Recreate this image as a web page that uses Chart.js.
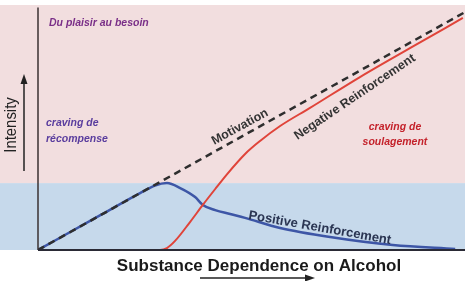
<!DOCTYPE html>
<html>
<head>
<meta charset="utf-8">
<script src="https://cdn.jsdelivr.net/npm/chart.js@4"></script>
<style>
  body { margin: 0; background: #fff; }
  #wrap { width: 468px; height: 281px; }
</style>
</head>
<body>
<div id="wrap"><canvas id="chart"></canvas></div>
<script>
// x = dependence (0-100), y = intensity (0-100)
var motivationX = [0, 100];
var motivationY = [0, 97.1];

var positiveX = [0, 14.5, 23.9, 27.4, 30.2, 33.3, 36.8, 38.6, 41.5, 45.0, 48.5, 56.7, 68.4, 83.1, 97.7];
var positiveY = [0, 14.1, 23.2, 26.3, 27.3, 25.3, 21.6, 18.4, 16.3, 14.7, 13.1, 9.0, 5.3, 2.0, 0.4];

var negativeX = [0, 28.6, 30.2, 32.1, 35.6, 38.6, 41.5, 44.3, 48.5, 52.0, 56.7, 63.7, 75.4, 87.1, 99.5];
var negativeY = [0, 0, 0.8, 3.7, 11.4, 18.4, 24.9, 31.0, 39.2, 44.5, 50.6, 58.0, 70.6, 82.4, 94.7];

var bandSplit = 27.3; // pink above, blue below

function pts(xs, ys) {
    return xs.map(function (x, i) { return { x: x, y: ys[i] }; });
}

function arrow(ctx, x1, y1, x2, y2) {
    var a = Math.atan2(y2 - y1, x2 - x1);
    ctx.beginPath();
    ctx.moveTo(x1, y1);
    ctx.lineTo(x2 - 7 * Math.cos(a), y2 - 7 * Math.sin(a));
    ctx.stroke();
    ctx.beginPath();
    ctx.moveTo(x2, y2);
    ctx.lineTo(x2 - 10 * Math.cos(a) + 3.5 * Math.sin(a), y2 - 10 * Math.sin(a) - 3.5 * Math.cos(a));
    ctx.lineTo(x2 - 10 * Math.cos(a) - 3.5 * Math.sin(a), y2 - 10 * Math.sin(a) + 3.5 * Math.cos(a));
    ctx.closePath();
    ctx.fill();
}

function label(ctx, text, x, y, deg, font, color, align) {
    ctx.save();
    ctx.translate(x, y);
    ctx.rotate(deg * Math.PI / 180);
    ctx.font = font;
    ctx.fillStyle = color;
    ctx.textAlign = align || "center";
    ctx.textBaseline = "middle";
    ctx.fillText(text, 0, 0);
    ctx.restore();
}

var decor = {
    id: "decor",
    beforeDraw: function (chart) {
        var ctx = chart.ctx, xs = chart.scales.x, ys = chart.scales.y;
        var right = xs.getPixelForValue(100);
        ctx.save();
        ctx.fillStyle = "#f2dedf";
        ctx.fillRect(0, ys.getPixelForValue(100), right, ys.getPixelForValue(bandSplit) - ys.getPixelForValue(100));
        ctx.fillStyle = "#c6d9eb";
        ctx.fillRect(0, ys.getPixelForValue(bandSplit), right, ys.getPixelForValue(0) - ys.getPixelForValue(bandSplit));
        ctx.restore();
    },
    afterDraw: function (chart) {
        var ctx = chart.ctx, xs = chart.scales.x, ys = chart.scales.y;
        var x0 = xs.getPixelForValue(0), x1 = xs.getPixelForValue(100);
        var y0 = ys.getPixelForValue(0), y1 = ys.getPixelForValue(99);
        ctx.save();
        // axes
        ctx.strokeStyle = "#3a3032";
        ctx.lineWidth = 1.5;
        ctx.beginPath();
        ctx.moveTo(x0, y1);
        ctx.lineTo(x0, y0);
        ctx.stroke();
        ctx.strokeStyle = "#2a2a35";
        ctx.lineWidth = 2;
        ctx.beginPath();
        ctx.moveTo(x0, y0);
        ctx.lineTo(x1, y0);
        ctx.stroke();

        // axis titles + arrows
        ctx.fillStyle = "#222";
        ctx.strokeStyle = "#222";
        ctx.lineWidth = 1.5;
        arrow(ctx, 24, 171, 24, 74);
        arrow(ctx, 200, 278, 315, 278);
        ctx.save();
        ctx.translate(12, 125);
        ctx.rotate(-Math.PI / 2);
        ctx.scale(0.93, 1);
        ctx.font = "16px 'Liberation Sans', Arial, sans-serif";
        ctx.fillStyle = "#222";
        ctx.textAlign = "center";
        ctx.textBaseline = "middle";
        ctx.fillText("Intensity", 0, 0);
        ctx.restore();
        label(ctx, "Substance Dependence on Alcohol", 259, 266, 0, "bold 17px 'Liberation Sans', Arial, sans-serif", "#1a1a1a");

        // annotations
        var it = "italic bold 10.5px 'Liberation Sans', Arial, sans-serif";
        label(ctx, "Du plaisir au besoin", 49, ys.getPixelForValue(92.7), 0, it, "#7a2f88", "left");
        label(ctx, "craving de", 46, ys.getPixelForValue(51.8), 0, it, "#5a3d9e", "left");
        label(ctx, "récompense", 46, ys.getPixelForValue(45.3), 0, it, "#5a3d9e", "left");
        label(ctx, "craving de", xs.getPixelForValue(83.6), ys.getPixelForValue(50.2), 0, it, "#c4222b");
        label(ctx, "soulagement", xs.getPixelForValue(83.6), ys.getPixelForValue(44.1), 0, it, "#c4222b");

        var bf = "bold 12.5px 'Liberation Sans', Arial, sans-serif";
        label(ctx, "Motivation", xs.getPixelForValue(47.3), ys.getPixelForValue(50.2), -28.5, bf, "#333");
        label(ctx, "Negative Reinforcement", xs.getPixelForValue(74.2), ys.getPixelForValue(62.4), -34, bf, "#333");
        label(ctx, "Positive Reinforcement", xs.getPixelForValue(66.0), ys.getPixelForValue(9.0), 10, "bold 13px 'Liberation Sans', Arial, sans-serif", "#2a3552");
        ctx.restore();
    }
};

new Chart(document.getElementById("chart").getContext("2d"), {
    type: "line",
    data: {
        datasets: [
            {
                label: "Motivation",
                data: pts(motivationX, motivationY),
                borderColor: "#2e2e2e",
                borderWidth: 2.5,
                borderDash: [7, 5],
                pointRadius: 0,
            },
            {
                label: "Negative Reinforcement",
                data: pts(negativeX, negativeY),
                borderColor: "#e0443a",
                borderWidth: 2,
                pointRadius: 0,
                cubicInterpolationMode: "monotone",
            },
            {
                label: "Positive Reinforcement",
                data: pts(positiveX, positiveY),
                borderColor: "#3d56a6",
                borderWidth: 2.5,
                pointRadius: 0,
                cubicInterpolationMode: "monotone",
            },
        ],
    },
    options: {
        responsive: true,
        maintainAspectRatio: false,
        animation: false,
        layout: { padding: { left: 38, right: 3, top: 5, bottom: 31 } },
        plugins: { legend: { display: false }, tooltip: { enabled: false } },
        scales: {
            x: { type: "linear", min: 0, max: 100, display: false },
            y: { type: "linear", min: 0, max: 100, display: false },
        },
    },
    plugins: [decor],
});
</script>
</body>
</html>
